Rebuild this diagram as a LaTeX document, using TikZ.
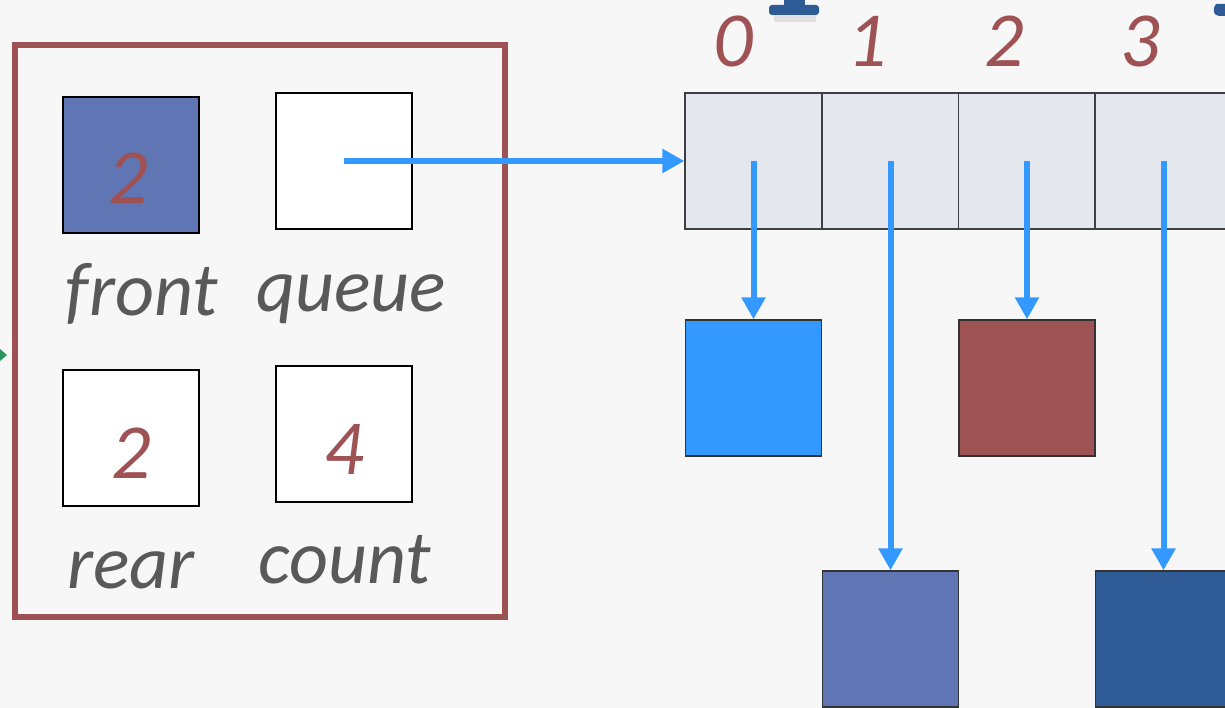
\documentclass[tikz,border=0pt]{standalone}
\usepackage{fontspec}
\setmainfont{Carlito}
\usetikzlibrary{arrows.meta}
\definecolor{bg}{RGB}{247,247,247}
\definecolor{frame}{RGB}{158,82,84}
\definecolor{numc}{RGB}{158,82,84}
\definecolor{labc}{RGB}{89,89,89}
\definecolor{frontblue}{RGB}{96,118,180}
\definecolor{arrblue}{RGB}{51,153,255}
\definecolor{cellc}{RGB}{228,232,238}
\definecolor{darkblue}{RGB}{46,90,150}
\definecolor{greenc}{RGB}{40,150,90}
\tikzset{
  box/.style={draw=black, line width=1.6pt, minimum width=136pt, minimum height=136pt, inner sep=0pt, fill=white},
  cell/.style={draw=black!75, line width=1.3pt, minimum width=137pt, minimum height=136pt, inner sep=0pt, fill=cellc},
  lab/.style={font=\fontsize{76}{76}\selectfont\itshape, text=labc, inner sep=0pt, anchor=base},
  num/.style={font=\fontsize{78}{78}\selectfont\itshape, text=numc, inner sep=0pt},
  arr/.style={draw=arrblue, line width=6pt, -{Triangle[width=23pt,length=22pt]}},
}
\begin{document}
\begin{tikzpicture}[x=1pt,y=-1pt]
\useasboundingbox (0,0) rectangle (1225,708);
\clip (0,0) rectangle (1225,708);
\fill[bg] (0,0) rectangle (1225,708);
% fragments at the top and left edge
\fill[black!12] (774,15) rectangle (816,22);
\fill[darkblue] (784,0) rectangle (805,6);
\fill[darkblue, rounded corners=3pt] (769,5) rectangle (819,15);
\fill[darkblue] (1225,4) -- (1225,16) -- (1219,16) .. controls (1213,15) and (1212,10) .. (1216,4) -- cycle;
\fill[greenc] (0,349) -- (7,355) -- (0,361) -- cycle;
% frame
\node[draw=frame, line width=6pt, minimum width=490pt, minimum height=572pt, inner sep=0pt] (frm) at (260,331) {};
% variable boxes
\node[box, fill=frontblue] (front) at (131,165) {};
\node[box] (queue) at (344,161) {};
\node[box] (rear) at (131,438) {};
\node[box] (count) at (344,434) {};
\node[num] (vfront) at (128,178) {2};
\node[num] (vrear) at (131,453) {2};
\node[num] (vcount) at (344,449) {4};
\node[lab] (lfront) at (142,316) {front};
\node[lab] (lqueue) at (351,312) {queue};
\node[lab] (lrear) at (131,588) {rear};
\node[lab] (lcount) at (345,583) {count};
% array
\node[cell] (c0) at (753.5,161) {};
\node[cell] (c1) at (890.5,161) {};
\node[cell] (c2) at (1027,161) {};
\node[cell] (c3) at (1163.5,161) {};
\node[num] (i0) at (733,41) {0};
\node[num] (i1) at (867,41) {1};
\node[num] (i2) at (1004,41) {2};
\node[num] (i3) at (1140,41) {3};
% element boxes
\node[box, fill=arrblue, draw=black!80, line width=1.3pt] (b0) at (753.5,388) {};
\node[box, fill=frame, draw=black!80, line width=1.3pt] (b2) at (1027,388) {};
\node[box, fill=frontblue, draw=black!80, line width=1.3pt] (b1) at (890.5,639) {};
\node[box, fill=darkblue, draw=black!80, line width=1.3pt] (b3) at (1163.5,639) {};
% arrows
\draw[arr] (queue.center) -- (c0.west);
\draw[arr] (c0.center) -- (b0.north);
\draw[arr] (c1.center) -- (b1.north);
\draw[arr] (c2.center) -- (b2.north);
\draw[arr] (c3.center) -- (b3.north);
\end{tikzpicture}
\end{document}
